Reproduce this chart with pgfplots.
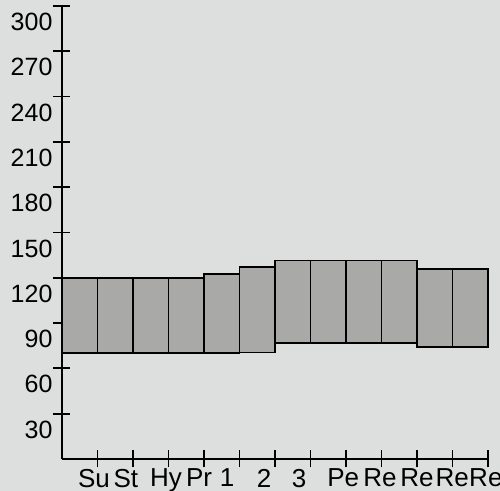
\documentclass[border=0pt]{standalone}
\usepackage{pgfplots}
\pgfplotsset{compat=1.18}
\usepackage{pgfplotstable}
\usepackage{fontspec}
\setmainfont{Liberation Sans}
\usetikzlibrary{backgrounds}
\definecolor{bgc}{HTML}{DCDFDD}
\definecolor{barc}{HTML}{A9AAA8}
\pgfplotstableread{
x low high
0.5 70 120
1.5 70 120
2.5 70 120
3.5 70 120
4.5 70 122.5
5.5 70.5 127
6.5 77 131.5
7.5 77 131.5
8.5 77 131.5
9.5 77 131.5
10.5 74 126
11.5 74 126
}\bars
\begin{document}
\begin{tikzpicture}
\begin{axis}[
  scale only axis,
  anchor=south west, at={(0,0)},
  width=213pt, height=226.5pt,
  xmin=0, xmax=12, ymin=0, ymax=300,
  axis x line=bottom, axis y line=left,
  axis line style={line width=0.9pt, -},
  every tick/.style={line width=0.9pt, black},
  tick align=center,
  major tick length=8.5pt,
  xtick={1,2,...,12}, xticklabels={},
  extra x ticks={0.9,1.8,2.93,3.86,4.65,5.69,6.68,7.92,8.96,10.0,10.99,11.94},
  extra x tick labels={Su,St,Hy,Pr,1,2,3,Pe,Re,Re,Re,Re},
  extra x tick style={major tick length=0pt, xticklabel style={yshift=-1.5pt, font=\fontsize{13}{14}\selectfont}},
  ytick={30,60,...,300},
  yticklabel style={yshift=-8pt, xshift=3pt},
  ticklabel style={font=\fontsize{12.5}{14}\selectfont},
  /pgf/number format/assume math mode=true,
  ybar stacked, bar width=1,
  clip=false,
]
\addplot[draw=none, fill=none] table[x=x, y=low] {\bars};
\addplot[fill=barc, draw=black, line width=0.9pt] table[x=x, y expr=\thisrow{high}-\thisrow{low}] {\bars};
\end{axis}
\pgfresetboundingbox
\path[use as bounding box] (-31pt,-16pt) rectangle (219pt,229.5pt);
\begin{scope}[on background layer]
\fill[bgc] (-31pt,-16pt) rectangle (219pt,229.5pt);
\end{scope}
\end{tikzpicture}
\end{document}
